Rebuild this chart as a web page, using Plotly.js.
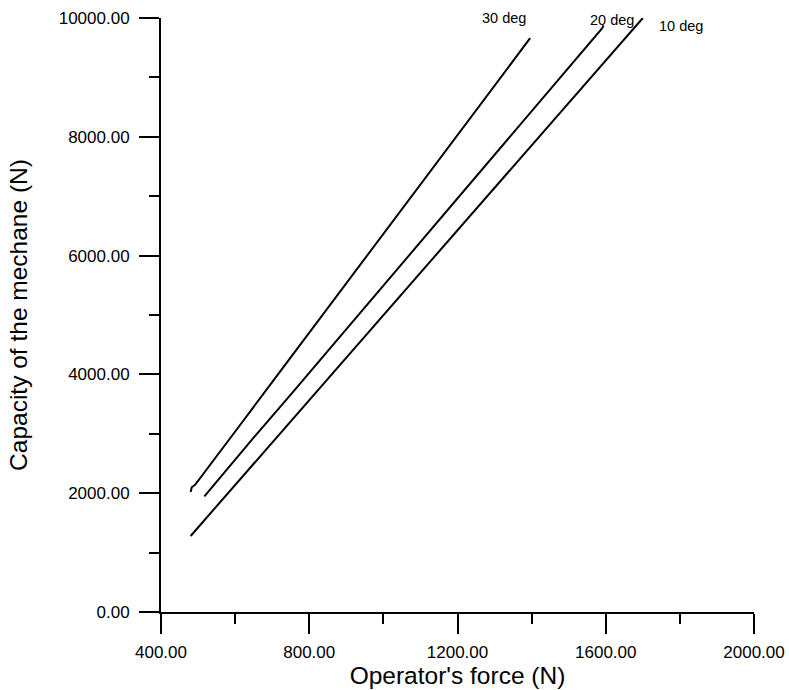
<!DOCTYPE html>
<html>
<head>
<meta charset="utf-8">
<script src="https://cdn.plot.ly/plotly-3.0.1.min.js"></script>
<style>html,body{margin:0;padding:0;background:#fff;}#chart{width:789px;height:690px;}</style>
</head>
<body>
<div id="chart"></div>
<script>
// Data
const seriesNames = ["10 deg", "20 deg", "30 deg"];

const deg10_x = [480, 1700];
const deg10_y = [1280, 10000];

const deg20_x = [517, 560, 650, 750, 850, 950, 1050, 1150, 1250, 1350, 1450, 1550, 1590, 1594];
const deg20_y = [1947, 2270, 2935, 3660, 4395, 5125, 5860, 6595, 7330, 8065, 8800, 9530, 9825, 9875];

const deg30_x = [480, 483, 492, 505, 550, 622, 703, 721, 811, 901, 968, 991, 1099, 1211, 1234, 1324, 1396];
const deg30_y = [2020, 2100, 2140, 2250, 2620, 3220, 3895, 4045, 4795, 5540, 6100, 6290, 7190, 8120, 8310, 9060, 9660];

const xTicks = [400, 800, 1200, 1600, 2000];
const yTicks = [0, 2000, 4000, 6000, 8000, 10000];

const FONT = "Liberation Sans, Arial, sans-serif";
const lineStyle = {color: "#000", width: 2};

const traces = [
  {x: deg10_x, y: deg10_y, name: seriesNames[0], mode: "lines", line: lineStyle},
  {x: deg20_x, y: deg20_y, name: seriesNames[1], mode: "lines", line: lineStyle},
  {x: deg30_x, y: deg30_y, name: seriesNames[2], mode: "lines", line: lineStyle}
];

const labelFont = {family: FONT, size: 14.5, color: "#000"};

const layout = {
  width: 789, height: 690,
  margin: {l: 161, r: 35, t: 18, b: 78, pad: 0},
  paper_bgcolor: "#fff", plot_bgcolor: "#fff",
  showlegend: false,
  font: {family: FONT, color: "#000"},
  xaxis: {
    range: [400, 2000],
    tickvals: xTicks,
    ticktext: xTicks.map(v => v.toFixed(2)),
    ticks: "outside", ticklen: 20, tickwidth: 2, tickcolor: "#000",
    minor: {dtick: 200, tick0: 400, ticks: "outside", ticklen: 10, tickwidth: 2, tickcolor: "#000", showgrid: false},
    showline: true, linecolor: "#000", linewidth: 2,
    showgrid: false, zeroline: false,
    tickfont: {family: FONT, size: 17, color: "#000"},
    ticklabelstandoff: 4,
    title: {text: "Operator's force (N)", font: {family: FONT, size: 24.5, color: "#000"}, standoff: 3}
  },
  yaxis: {
    range: [0, 10000],
    tickvals: yTicks,
    ticktext: yTicks.map(v => v.toFixed(2)),
    ticks: "outside", ticklen: 20, tickwidth: 2, tickcolor: "#000",
    minor: {dtick: 1000, tick0: 0, ticks: "outside", ticklen: 10, tickwidth: 2, tickcolor: "#000", showgrid: false},
    showline: true, linecolor: "#000", linewidth: 2,
    showgrid: false, zeroline: false,
    tickfont: {family: FONT, size: 17, color: "#000"},
    ticklabelstandoff: 6,
    title: {text: "Capacity of the mechane (N)", font: {family: FONT, size: 24.5, color: "#000"}, standoff: 24}
  },
  annotations: [
    {x: 1326, y: 9950, yshift: 3.2, xref: "x", yref: "y", text: seriesNames[2], showarrow: false, font: labelFont},
    {x: 1617, y: 9950, yshift: 1, xref: "x", yref: "y", text: seriesNames[1], showarrow: false, font: labelFont},
    {x: 1802, y: 9857, xref: "x", yref: "y", text: seriesNames[0], showarrow: false, font: labelFont}
  ]
};

Plotly.newPlot("chart", traces, layout, {staticPlot: true, displayModeBar: false});
</script>
</body>
</html>
